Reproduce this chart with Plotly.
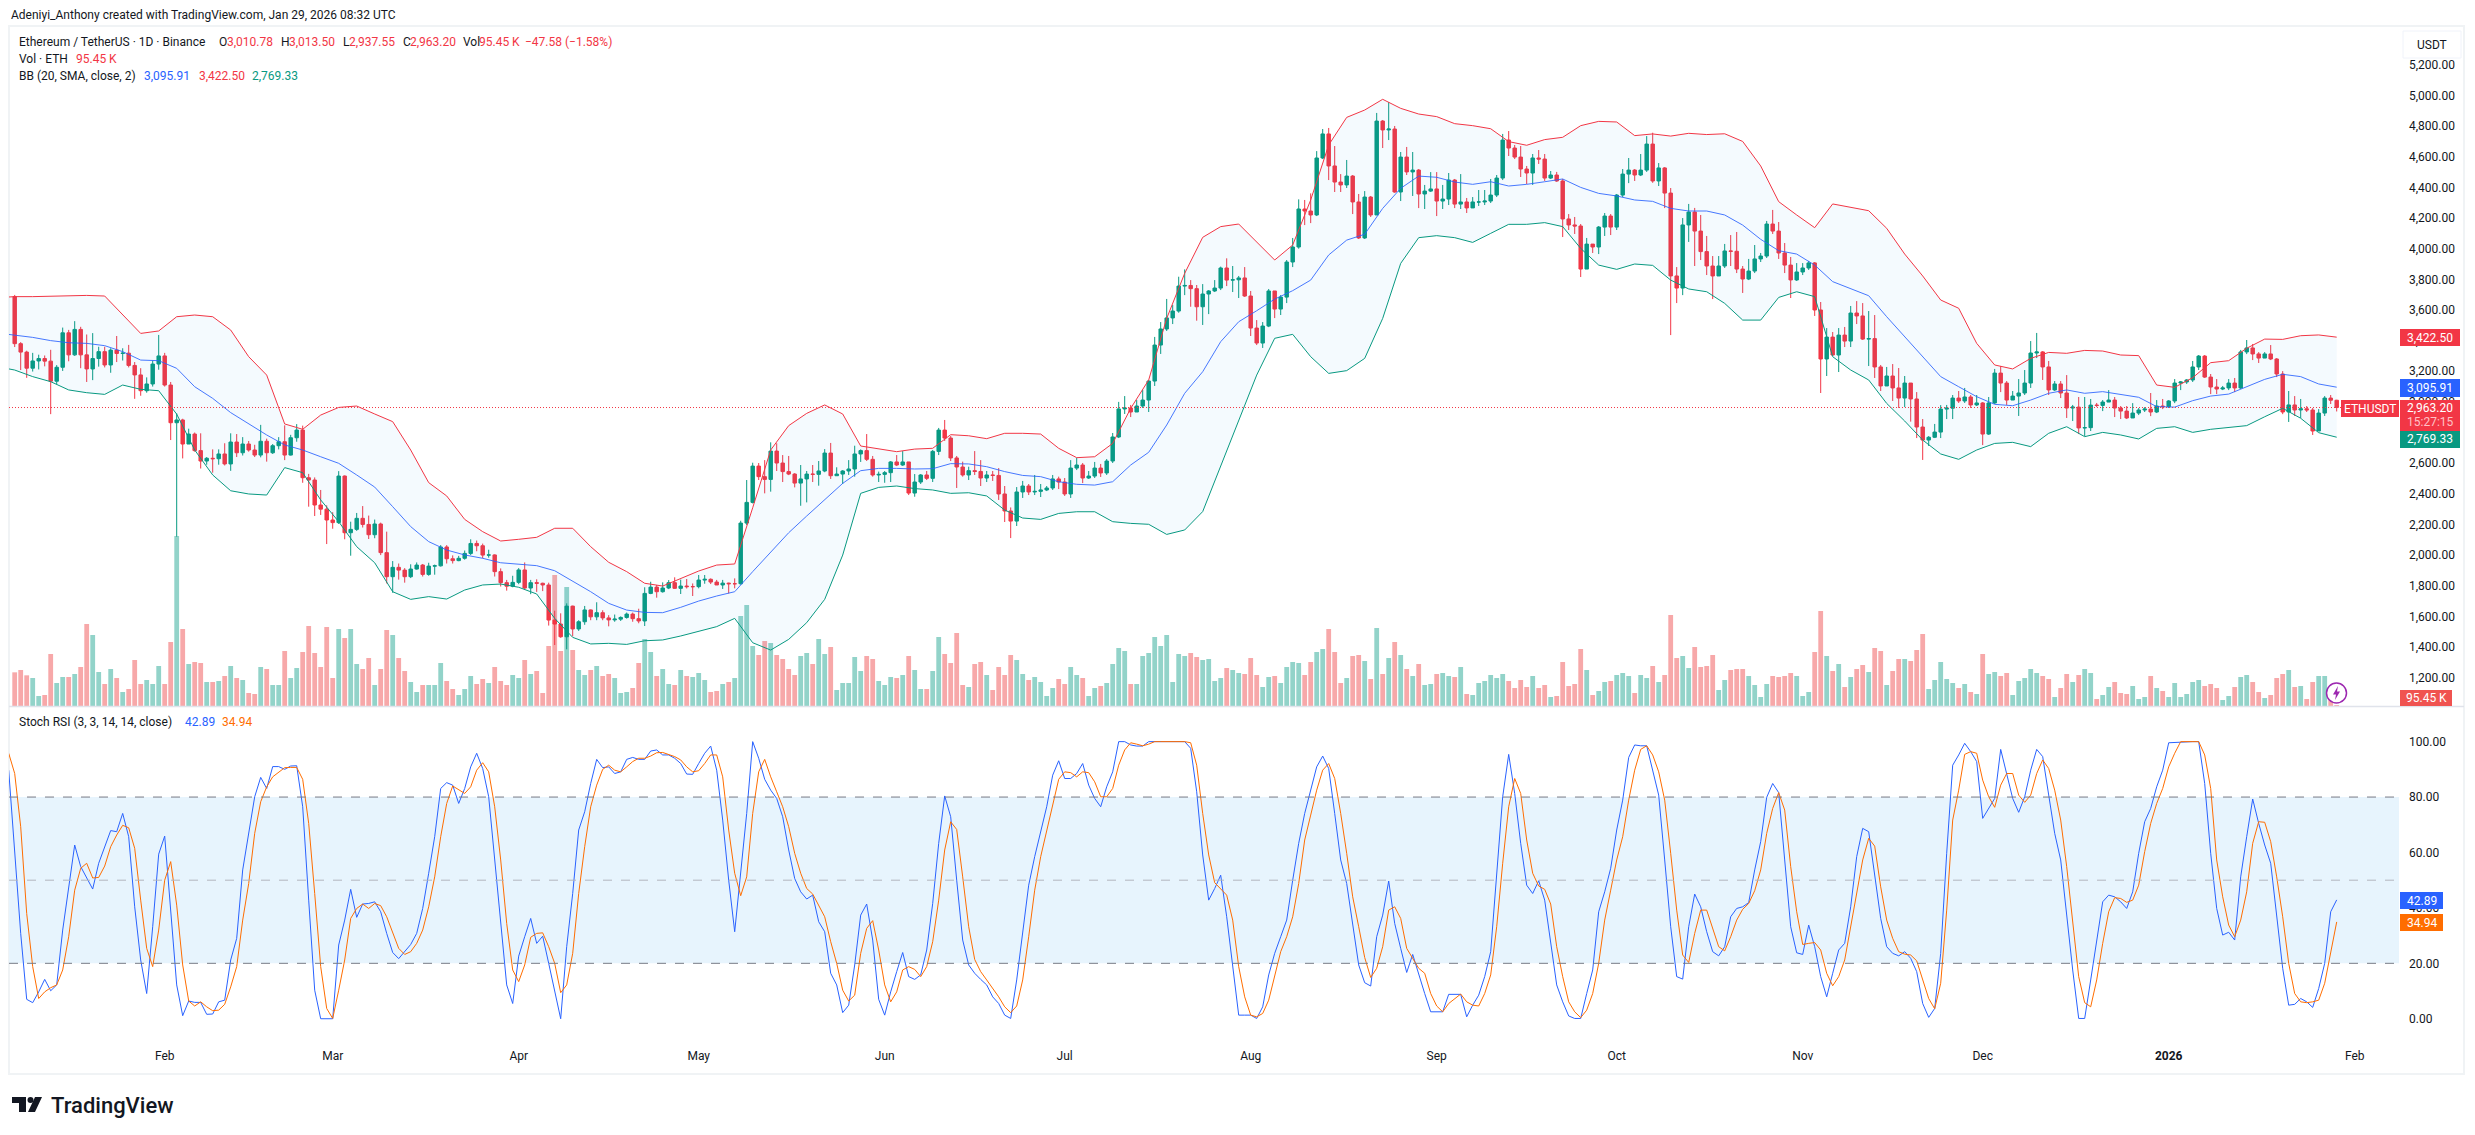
import pandas as pd
import plotly.graph_objects as go

WIDTH, HEIGHT = 2475, 1135

first_open = 3687

# Daily closes, one row per month from 7 Jan 2025 to 29 Jan 2026
close_prices = [
    3380,3325,3220,3267,3283,3266,3135,3226,3451,3307,3473,3307,3215,3283,3328,3241,3338,3316,3318,3238,3176,3073,3117,3247,3300,
    3110,2864,2882,2725,2790,2682,2614,2632,2629,2660,2595,2738,2668,2725,2686,2653,2743,2668,2714,2740,2653,2766,2816,2505,2490,2327,2300,2229,
    2212,2516,2146,2168,2240,2200,2133,2203,2016,1859,1920,1902,1859,1909,1935,1874,1928,1930,2053,1976,1964,1979,2011,2076,2061,2000,2001,1892,1820,1797,1822,
    1903,1785,1820,1816,1805,1576,1550,1467,1667,1518,1565,1642,1597,1624,1590,1577,1582,1593,1615,1585,1570,1750,1791,1761,1785,1820,1783,1798,1794,1794,
    1837,1842,1824,1805,1817,1813,1813,2209,2344,2581,2512,2494,2679,2601,2545,2529,2470,2497,2529,2527,2549,2666,2518,2529,2549,2562,2660,2682,2625,2523,2527,
    2538,2608,2588,2608,2405,2477,2523,2501,2677,2816,2764,2634,2575,2523,2551,2546,2503,2523,2520,2399,2288,2222,2412,2451,2412,2416,2425,2438,2497,2477,
    2399,2568,2588,2503,2516,2568,2536,2614,2771,2954,2960,2934,2973,3012,3136,3371,3476,3548,3593,3756,3760,3739,3621,3704,3724,3743,3874,3795,3797,3809,3691,
    3482,3384,3495,3724,3606,3684,3913,4011,4259,4246,4220,4592,4749,4540,4435,4416,4474,4305,4070,4337,4220,4833,4775,4781,4370,4598,4501,4513,4357,4376,4390,
    4311,4324,4448,4291,4305,4266,4305,4305,4311,4350,4461,4709,4657,4598,4520,4494,4592,4585,4461,4481,4442,4194,4155,4148,3867,4030,4011,4141,4213,4141,
    4350,4487,4513,4481,4513,4683,4442,4527,4363,3822,3743,4155,4239,4115,3981,3887,3822,3887,3985,3983,3867,3802,3854,3933,3952,4161,4115,3972,3893,3796,3848,
    3874,3907,3600,3280,3423,3306,3436,3397,3580,3561,3410,3413,3228,3104,3169,3091,3025,3123,3019,2836,2751,2769,2803,2953,2959,3025,3006,3032,2980,2993,
    2790,2993,3188,3123,3012,3038,3058,3123,3319,3326,3228,3078,3117,3058,2960,2966,2830,2832,2979,2977,2999,3012,2960,2940,2895,2927,2947,2953,2934,2973,2969,
    3006,3123,3130,3143,3228,3299,3162,3097,3084,3091,3123,3091,3326,3352,3313,3286,3313,3280,3182,2934,2980,2947,2955,2947,2810,2927,3025,3010.78,2963.20,
]
high_prices = [
    3698,3390,3334,3320,3308,3303,3340,3240,3485,3470,3527,3490,3440,3449,3360,3360,3350,3430,3350,3372,3260,3220,3160,3270,3437,
    3320,3130,2925,2890,2825,2800,2795,2640,2690,2690,2730,2795,2790,2770,2745,2720,2850,2760,2725,2770,2847,2785,2855,2845,2530,2507,2425,2325,
    2280,2548,2520,2218,2275,2320,2258,2232,2212,2153,1961,1945,1915,1940,1952,1942,1950,1938,2065,2065,1998,1995,2030,2103,2095,2075,2035,2005,1913,1838,1865,
    1915,1952,1838,1842,1820,1820,1637,1620,1685,1670,1575,1668,1645,1692,1640,1608,1612,1600,1625,1625,1650,1790,1826,1805,1822,1837,1855,1840,1844,1815,
    1870,1870,1848,1838,1838,1820,1848,2224,2490,2603,2601,2620,2736,2730,2653,2647,2535,2588,2549,2588,2614,2692,2732,2573,2555,2620,2714,2690,2790,2647,2545,
    2549,2614,2653,2679,2608,2529,2529,2549,2686,2830,2882,2777,2647,2610,2577,2679,2620,2549,2549,2568,2451,2311,2444,2484,2464,2523,2464,2451,2523,2512,
    2503,2620,2634,2601,2549,2608,2595,2627,2797,3000,3038,2980,3012,3078,3143,3424,3521,3672,3633,3817,3865,3795,3763,3769,3730,3795,3883,3937,3887,3822,3880,
    3724,3534,3521,3737,3724,3697,3926,4070,4322,4318,4361,4637,4781,4788,4670,4487,4579,4481,4357,4376,4344,4886,4840,4957,4801,4631,4664,4631,4520,4416,4500,
    4500,4416,4494,4455,4487,4331,4337,4383,4383,4455,4481,4749,4768,4677,4670,4540,4618,4644,4618,4507,4501,4455,4226,4207,4161,4070,4030,4148,4233,4226,
    4357,4520,4592,4520,4618,4735,4757,4559,4533,4396,3880,4200,4292,4266,4220,4083,3952,3952,4031,4089,4109,3887,3933,4024,3972,4181,4253,4174,4037,3946,3906,
    3906,3920,3913,3652,3482,3456,3482,3489,3626,3658,3645,3593,3567,3241,3228,3247,3221,3169,3123,3064,2888,2777,2856,2979,2980,3045,3071,3091,3045,3045,
    2999,3032,3215,3234,3136,3071,3149,3208,3397,3450,3332,3267,3136,3136,3175,2980,3032,3032,3019,2993,3012,3077,3032,2973,2973,2992,2960,2966,3058,3012,3019,
    3012,3149,3136,3149,3267,3306,3306,3182,3149,3104,3149,3156,3339,3404,3378,3325,3325,3371,3286,3201,3071,3038,3019,2973,2960,2953,3038,3045,3013.50,
]
low_prices = [
    3358,3208,3157,3198,3212,3232,2920,3115,3202,3265,3300,3220,3130,3142,3230,3225,3190,3260,3270,3225,3020,3040,3060,3100,3210,
    3100,2751,2120,2631,2730,2675,2565,2590,2538,2590,2585,2550,2640,2650,2675,2640,2638,2610,2660,2690,2620,2650,2740,2472,2316,2255,2262,2072,
    2172,2203,2103,1996,2158,2180,2105,2110,2000,1815,1754,1840,1820,1850,1905,1860,1865,1872,1925,1945,1945,1960,1970,2000,2025,1980,1983,1860,1795,1768,1790,
    1810,1772,1745,1760,1765,1540,1413,1460,1385,1470,1505,1545,1575,1575,1575,1535,1565,1570,1585,1565,1555,1537,1745,1722,1755,1778,1780,1746,1782,1733,
    1783,1813,1811,1805,1779,1750,1783,1807,2196,2337,2490,2403,2414,2549,2477,2522,2442,2322,2344,2477,2453,2541,2497,2518,2464,2523,2512,2608,2614,2512,2477,
    2472,2477,2581,2582,2392,2381,2464,2490,2477,2653,2745,2614,2438,2512,2490,2523,2451,2477,2484,2360,2216,2111,2190,2373,2392,2392,2379,2418,2425,2431,
    2386,2373,2555,2470,2497,2503,2510,2523,2601,2764,2921,2901,2934,2960,2934,3104,3313,3463,3508,3582,3697,3621,3530,3502,3573,3717,3730,3756,3717,3678,3685,
    3430,3371,3352,3488,3547,3567,3645,3880,4000,4154,4167,4213,4585,4448,4370,4370,4396,4226,4063,4063,4207,4220,4657,4709,4365,4311,4481,4344,4265,4259,4370,
    4213,4259,4285,4265,4259,4233,4266,4279,4285,4298,4337,4448,4605,4585,4468,4422,4416,4553,4442,4455,4436,4076,4122,4096,3815,3867,3972,3965,4083,4089,
    4122,4337,4428,4442,4474,4501,4430,4409,4265,3436,3645,3697,4044,3887,3926,3828,3671,3822,3874,3887,3841,3711,3795,3841,3913,3939,4096,3933,3841,3678,3789,
    3828,3861,3561,3058,3169,3300,3195,3358,3358,3508,3404,3234,3156,3071,3104,3006,2960,2966,2871,2764,2621,2712,2764,2764,2888,2888,2993,2993,2960,2973,
    2718,2784,2986,3064,2980,3012,2908,3045,3091,3286,3143,3045,3071,3025,2895,2875,2790,2777,2810,2966,2940,3006,2901,2888,2888,2895,2914,2934,2907,2927,2953,
    2960,2992,3077,3117,3130,3208,3156,3051,3051,3077,3077,3064,3084,3312,3273,3254,3286,3273,3162,2920,2869,2908,2895,2934,2784,2810,2908,2986,2937.55,
]
# Daily traded volume in thousands of ETH
volumes_k = [
    585,620,540,500,230,245,860,425,515,515,560,665,1310,1145,590,410,635,500,290,335,770,410,470,410,680,
    410,1040,2630,1235,710,740,725,440,440,455,530,680,500,470,275,260,665,635,395,395,905,500,650,890,1280,875,665,1265,
    500,1235,1100,1235,710,635,800,395,635,1220,1145,800,605,440,290,395,395,395,725,455,335,245,335,530,410,485,425,665,455,395,545,
    500,770,560,605,275,980,2045,905,1865,920,620,545,620,680,530,560,500,275,290,350,725,1085,890,530,635,410,395,620,530,515,
    575,470,290,305,410,440,500,1430,1595,980,845,1055,1025,845,785,635,545,830,875,710,1085,860,965,320,425,425,815,605,830,785,455,
    395,515,500,545,830,620,335,335,605,1115,860,725,1175,395,365,710,740,545,320,665,545,845,770,560,470,515,440,230,350,485,
    410,665,545,500,230,350,380,425,710,950,905,410,410,830,875,1115,980,1145,440,860,830,875,815,770,785,455,500,650,620,575,560,
    800,545,365,515,530,425,665,740,725,545,740,890,935,1235,890,425,500,830,845,755,485,1250,560,800,1040,845,635,530,710,395,410,
    560,575,530,515,665,260,245,425,455,545,500,560,455,350,470,365,530,350,395,215,230,740,380,410,935,620,245,305,440,455,
    545,575,530,275,545,500,680,440,545,1445,800,830,650,965,665,680,845,320,470,620,635,635,530,395,215,410,530,515,530,575,530,
    230,290,890,1505,830,605,710,365,515,635,695,590,950,905,395,605,785,785,755,920,1160,335,470,740,485,425,350,410,290,260,
    860,560,590,530,575,245,455,500,635,575,530,485,215,350,560,440,545,635,575,185,245,365,440,275,260,380,185,215,530,350,305,
    215,425,215,260,440,470,380,410,350,170,230,365,515,545,440,290,200,245,500,560,620,365,380,185,440,530,530,250,95.45,
]
# Bollinger Bands sampled every third session, starting 4 Jan 2025
bb_upper = [
    3680,3687,3687,3691,3693,3695,3691,3567,3447,3463,3556,3567,3556,3469,3295,3175,2856,2821,2914,2964,2973,2921,2871,2686,2473,2386,
    2233,2153,2092,2103,2116,2175,2175,2055,1953,1892,1816,1798,1848,1896,1935,1942,2309,2686,2845,2925,2980,2921,2712,2692,2675,2692,
    2697,2786,2779,2760,2795,2795,2790,2697,2636,2642,2729,2958,3143,3545,3839,4074,4144,4161,4046,3926,4024,4318,4677,4857,4905,4975,
    4916,4879,4862,4816,4803,4783,4699,4675,4712,4727,4803,4831,4827,4738,4749,4735,4753,4745,4750,4700,4540,4307,4220,4137,4292,4270,
    4248,4133,3965,3822,3665,3611,3382,3241,3215,3284,3323,3317,3336,3332,3306,3302,3110,3095,3158,3256,3269,3350,3410,3408,3432,3437,3422.50,
]
bb_basis = [
    3450,3437,3421,3400,3386,3382,3367,3328,3273,3269,3219,3099,3023,2930,2856,2784,2719,2686,2642,2599,2523,2444,2316,2186,2088,2033,
    2001,1979,1950,1942,1931,1898,1831,1761,1685,1641,1626,1624,1659,1700,1733,1761,1892,2022,2146,2255,2364,2468,2551,2566,2566,2562,
    2564,2597,2595,2577,2545,2520,2512,2479,2462,2457,2479,2588,2671,2849,3056,3197,3393,3523,3595,3671,3726,3795,3959,4056,4094,4263,
    4394,4474,4466,4435,4420,4437,4409,4420,4437,4455,4400,4361,4344,4318,4309,4263,4246,4246,4220,4154,4061,3987,3965,3893,3785,3741,
    3693,3556,3426,3295,3165,3099,3034,2984,2975,3012,3056,3078,3056,3067,3049,3030,2969,2966,3008,3038,3051,3099,3147,3180,3165,3117,3095.91,
]
bb_lower = [
    3230,3208,3165,3132,3078,3060,3049,3110,3082,3073,2920,2686,2523,2420,2399,2392,2571,2538,2360,2218,2055,1950,1761,1711,1729,1713,
    1772,1805,1811,1790,1746,1587,1463,1420,1424,1417,1441,1446,1472,1504,1533,1587,1428,1380,1450,1559,1711,2000,2403,2442,2451,2434,
    2425,2403,2407,2386,2294,2242,2233,2272,2283,2283,2218,2207,2201,2135,2164,2284,2580,2882,3175,3415,3441,3295,3186,3204,3284,3545,
    3904,4072,4085,4072,4041,4100,4159,4159,4170,4144,4002,3893,3865,3900,3891,3795,3737,3719,3643,3534,3534,3682,3719,3687,3295,3208,
    3143,2990,2875,2751,2660,2625,2686,2729,2736,2708,2795,2838,2773,2801,2784,2758,2827,2838,2801,2821,2834,2845,2903,2958,2893,2799,2769.33,
]
# Stochastic RSI from 6 Jan 2025
stoch_k = [
    89.7,59.7,30.8,7.0,5.8,9.7,14.2,10.1,12.2,32.0,47.6,62.7,54.9,50.6,46.8,56.1,62.3,67.9,67.5,74.1,65.7,40.4,21.2,9.1,33.2,59.4,65.9,38.0,12.2,1.1,
    6.4,5.9,5.9,1.6,1.7,6.1,6.7,21.2,29.0,53.7,66.9,80.1,87.1,83.1,91.0,91.0,90.0,91.2,91.3,76.5,42.8,10.3,0,0,0,26.6,35.6,46.7,36.6,41.4,
    41.6,42.2,38.6,30.8,23.9,21.7,24.2,26.8,30.8,39.8,52.5,65.7,83.1,85.2,84.3,77.7,83.1,90.9,95.8,90.3,80.1,57.3,34.4,12.2,5.5,22.6,29.6,36.2,27.2,29.8,
    20.0,10.3,0,26.0,45.2,68.1,74.7,84.9,93.6,90.6,90.9,88.5,89.1,93.6,94.3,93.6,93.6,96.6,97.0,95.2,95.2,94.0,92.1,88.3,88.2,92.1,95.8,98.4,89.7,71.7,
    50.0,31.4,53.7,74.1,100,94.0,86.4,82.5,79.5,72.9,60.9,50.6,45.8,43.2,44.6,35.0,31.4,16.4,12.2,2.2,4.9,19.4,37.4,41.4,28.4,7.0,1.3,9.7,17.0,23.9,
    15.2,14.2,15.8,24.8,41.6,63.3,80.4,72.9,50.0,28.4,19.4,16.4,14.2,12.2,7.9,5.5,1.3,0.1,14.0,30.8,48.2,58.5,68.1,76.5,87.9,93.1,86.7,86.7,88.5,92.1,
    84.3,79.5,76.5,83.7,89.1,100,100,98.8,98.4,98.4,100,100,100,100,100,100,100,97.6,81.9,59.1,42.8,47.0,51.8,36.8,19.4,1.3,1.3,1.3,0.1,4.3,
    15.8,23.6,29.6,35.6,50.0,63.3,74.1,82.5,90.9,94.8,90.3,74.1,57.3,48.8,34.4,19.4,13.0,11.8,29.6,37.4,49.7,34.4,25.4,16.7,23.2,15.8,9.1,2.5,2.4,2.5,
    8.8,8.8,8.8,0.7,4.9,8.5,15.2,24.2,53.7,80.1,95.4,81.3,63.3,48.2,45.2,49.8,42.8,28.4,12.2,6.1,1.0,0.1,0.1,9.1,17.6,38.6,45.8,54.3,68.1,78.9,
    94.3,98.8,98.5,98.5,89.7,80.7,57.3,33.2,15.2,14.3,33.2,45.0,40.4,31.4,24.2,22.7,26.0,36.8,39.8,40.4,41.9,53.7,63.9,79.9,84.9,81.6,57.3,33.2,23.8,23.2,
    33.8,26.0,15.2,7.9,16.4,24.8,27.2,40.4,58.5,68.7,67.5,51.2,36.2,26.0,23.6,22.7,24.2,21.8,17.0,5.5,0.5,3.7,23.6,59.7,91.5,95.2,99.4,96.4,92.8,72.3,
    75.9,79.5,97.2,87.9,79.5,74.5,80.1,89.7,97.2,94.6,81.3,66.9,57.3,36.8,17.6,0.1,0.1,14.0,28.4,42.2,44.6,44.0,42.2,39.8,45.8,59.7,71.1,75.9,83.7,89.7,
    99.6,99.7,100,100,100,100,84.9,59.7,39.8,30.2,31.2,28.4,51.2,65.7,79.3,70.5,62.7,56.1,36.8,18.2,4.9,5.2,7.3,6.1,4.1,10.9,20.0,38.6,42.89,
]
stoch_d = [
    95.8,88.5,69.3,38.0,18.8,7.3,9.7,11.2,12.2,17.6,29.6,46.4,54.3,56.1,50.8,51.0,55.1,62.1,66.3,69.8,68.9,61.5,42.8,25.4,18.8,32.0,50.0,56.7,41.0,19.4,
    6.4,4.6,6.1,4.3,2.9,3.1,5.2,11.5,18.8,35.6,48.8,66.9,78.3,83.7,87.3,88.8,90.6,90.7,90.7,86.4,70.5,45.2,18.8,3.7,0.1,10.3,21.2,36.2,39.8,41.4,
    39.8,41.6,40.8,36.8,30.8,25.4,23.2,24.2,27.2,32.0,40.4,51.2,65.7,77.7,84.0,82.5,81.3,83.7,89.7,92.4,89.1,76.5,57.3,34.4,17.6,13.4,19.4,29.4,30.8,31.0,
    26.0,20.0,9.4,12.2,23.6,45.2,62.1,76.5,84.3,90.0,91.5,89.7,89.1,90.9,92.8,94.0,94.0,94.8,96.0,96.1,95.4,94.6,93.4,90.9,89.1,89.5,92.1,95.2,95.2,87.3,
    68.1,52.5,44.4,51.2,74.1,89.1,93.6,87.3,81.9,76.5,69.3,59.7,52.5,47.0,45.0,41.0,36.8,27.8,20.0,10.3,6.4,8.5,23.6,32.6,35.4,24.8,12.2,6.1,9.7,17.6,
    18.8,17.8,15.2,18.8,27.8,42.8,60.9,71.1,68.3,51.2,33.2,21.4,17.0,14.0,10.9,7.9,4.3,2.2,4.6,14.0,29.6,46.4,58.5,68.1,77.7,86.4,89.1,88.8,87.3,89.1,
    88.8,85.5,80.1,80.1,83.1,91.5,97.0,99.6,99.1,98.5,99.1,100,100,100,100,100,100,99.6,91.5,74.1,59.1,49.1,47.0,44.6,35.6,18.8,7.9,1.3,0.7,1.9,
    6.7,15.2,24.2,29.6,36.8,48.8,64.5,73.5,82.5,89.7,92.1,86.7,74.1,59.7,44.0,33.2,22.1,14.9,18.2,26.0,39.2,40.4,36.2,25.4,21.8,18.2,16.4,9.1,4.6,2.5,
    5.5,7.3,8.9,6.1,4.9,4.6,9.1,15.8,33.2,56.1,76.5,86.7,81.3,64.5,52.5,47.9,46.7,41.4,26.0,15.2,6.1,2.5,0.4,3.1,9.1,20.0,35.6,46.4,57.3,65.7,
    78.9,89.7,97.2,98.5,95.2,89.1,78.9,59.7,39.2,23.0,20.3,30.8,39.2,39.2,32.6,26.0,24.5,29.6,35.6,39.5,41.6,46.2,53.7,66.9,75.9,81.6,75.3,54.9,38.6,26.8,
    27.2,27.5,24.8,16.4,11.9,15.2,21.2,33.2,44.0,57.3,65.1,62.3,47.6,35.6,29.0,24.2,23.3,23.0,20.9,14.0,7.3,3.6,12.8,39.2,71.7,82.5,95.4,96.4,95.8,86.1,
    80.1,76.3,84.3,88.5,88.5,80.7,78.1,80.7,88.5,93.4,90.3,82.5,71.7,54.9,35.6,15.2,5.8,4.3,14.0,27.2,38.6,43.7,43.4,42.0,42.8,48.2,60.3,70.5,77.7,83.1,
    90.9,95.8,100,100,100,100,95.2,83.1,57.3,44.0,33.8,29.6,35.6,45.8,63.3,71.1,70.9,63.9,51.2,36.8,20.0,9.1,6.1,5.8,6.1,6.7,12.8,23.6,34.94,
]

price_ticks = list(range(1200, 5400, 200))
stoch_ticks = [0, 20, 40, 60, 80, 100]
month_ticks = ["2025-02-01", "2025-03-01", "2025-04-01", "2025-05-01", "2025-06-01", "2025-07-01", "2025-08-01",
               "2025-09-01", "2025-10-01", "2025-11-01", "2025-12-01", "2026-01-01", "2026-02-01"]
month_labels = ["Feb", "Mar", "Apr", "May", "Jun", "Jul", "Aug", "Sep", "Oct", "Nov", "Dec", "<b>2026</b>", "Feb"]

RED, GREEN, BLUE, ORANGE = "#f23645", "#089981", "#2962ff", "#ff6d00"
FONT = "Roboto, Lato, sans-serif"
TEXT = "#131722"

dates = pd.date_range("2025-01-07", periods=len(close_prices), freq="D")
stoch_dates = pd.date_range("2025-01-06", periods=len(stoch_k), freq="D")
bb_dates = pd.date_range("2025-01-04", periods=len(bb_upper), freq="3D")
open_prices = [first_open] + close_prices[:-1]
volume_colors = ["#92d3c9" if c >= o else "#f7a8a9" for o, c in zip(open_prices, close_prices)]


def fx(px):
    return px / WIDTH


def fy(py):
    return 1 - py / HEIGHT


PANE_L, PANE_R = 9, 2399
PRICE_T, PRICE_B = 27, 706
STOCH_T, STOCH_B = 707, 1047


def px_to_date(px):
    return pd.Timestamp("2025-01-07") + pd.to_timedelta((px - 14.7) / 6, unit="D")


fig = go.Figure()
fig.add_trace(go.Bar(x=dates, y=volumes_k, marker=dict(color=volume_colors, line_width=0), yaxis="y", xaxis="x",
                     hoverinfo="skip"))
fig.add_trace(go.Scatter(x=bb_dates, y=bb_lower, mode="lines", line=dict(color=GREEN, width=1), opacity=0.8, yaxis="y2", xaxis="x"))
fig.add_trace(go.Scatter(x=bb_dates, y=bb_upper, mode="lines", line=dict(color=RED, width=1), opacity=0.8, fill="tonexty",
                         fillcolor="rgba(33,150,243,0.05)", yaxis="y2", xaxis="x"))
fig.add_trace(go.Scatter(x=bb_dates, y=bb_basis, mode="lines", line=dict(color=BLUE, width=1), opacity=0.85, yaxis="y2", xaxis="x"))
fig.add_trace(go.Candlestick(x=dates, open=open_prices, high=high_prices, low=low_prices, close=close_prices,
                             increasing=dict(line=dict(color=GREEN, width=1), fillcolor=GREEN),
                             decreasing=dict(line=dict(color=RED, width=1), fillcolor=RED),
                             yaxis="y2", xaxis="x"))
fig.add_trace(go.Scatter(x=stoch_dates, y=stoch_k, mode="lines", line=dict(color=BLUE, width=1), yaxis="y3", xaxis="x"))
fig.add_trace(go.Scatter(x=stoch_dates, y=stoch_d, mode="lines", line=dict(color=ORANGE, width=1), yaxis="y3", xaxis="x"))

shapes = [
    # outer frame and pane divider
    dict(type="rect", xref="paper", yref="paper", x0=fx(9), x1=fx(2464), y0=fy(26), y1=fy(1074),
         line=dict(color="#f0f3f5", width=2), layer="below"),
    dict(type="line", xref="paper", yref="paper", x0=fx(9), x1=fx(2464), y0=fy(706.5), y1=fy(706.5),
         line=dict(color="#e0e3eb", width=1.5)),
    # Stoch RSI channel
    dict(type="rect", xref="paper", yref="y3", x0=fx(PANE_L), x1=fx(PANE_R), y0=20, y1=80,
         fillcolor="#e7f4fd", line_width=0, layer="below"),
    dict(type="line", xref="paper", yref="y3", x0=fx(PANE_L), x1=fx(PANE_R), y0=80, y1=80,
         line=dict(color="#787b86", width=1, dash="dash")),
    dict(type="line", xref="paper", yref="y3", x0=fx(PANE_L), x1=fx(PANE_R), y0=20, y1=20,
         line=dict(color="#787b86", width=1, dash="dash")),
    dict(type="line", xref="paper", yref="y3", x0=fx(PANE_L), x1=fx(PANE_R), y0=50, y1=50,
         line=dict(color="#b2b5be", width=1, dash="dash")),
    # last price line
    dict(type="line", xref="paper", yref="y2", x0=fx(PANE_L), x1=fx(2341), y0=close_prices[-1], y1=close_prices[-1],
         line=dict(color=RED, width=1, dash="1px,2px")),
    # symbol-scale button
    dict(type="rect", xref="paper", yref="paper", x0=fx(2403), x1=fx(2461), y0=fy(31), y1=fy(58),
         fillcolor="white", line=dict(color="#f0f3fa", width=1)),
    # badge on the latest volume bar
    dict(type="circle", xref="paper", yref="paper", x0=fx(2326.5), x1=fx(2346.5), y0=fy(683), y1=fy(703),
         fillcolor="white", line=dict(color="#9c27b0", width=1.5)),
    dict(type="path", xref="paper", yref="paper", line_width=0, fillcolor="#9c27b0",
         path=f"M {fx(2338)} {fy(686)} L {fx(2333)} {fy(694.5)} L {fx(2336)} {fy(694.5)} L {fx(2335)} {fy(700)} "
              f"L {fx(2340)} {fy(691.5)} L {fx(2337)} {fy(691.5)} Z"),
]


def box(x0, x1, y0, y1, color):
    shapes.append(dict(type="rect", xref="paper", yref="paper", x0=fx(x0), x1=fx(x1), y0=fy(y0), y1=fy(y1),
                       fillcolor=color, line_width=0))


box(2400, 2460, 329, 346, RED)
box(2400, 2460, 379, 397, BLUE)
box(2341, 2399, 400, 417, RED)
box(2400, 2460, 400, 431, RED)
box(2400, 2460, 431, 448, GREEN)
box(2400, 2452, 690, 706, "#f05350")
box(2400, 2443, 892, 909, BLUE)
box(2400, 2443, 914, 931, ORANGE)

# TradingView mark
black = "#131722"
box(12, 26, 1097, 1103, black)
box(19, 26, 1097, 1112, black)
shapes.append(dict(type="circle", xref="paper", yref="paper", x0=fx(27.5), x1=fx(33.5), y0=fy(1097), y1=fy(1103),
                   fillcolor=black, line_width=0))
shapes.append(dict(type="path", xref="paper", yref="paper", line_width=0, fillcolor=black,
                   path=f"M {fx(35)} {fy(1097)} L {fx(42)} {fy(1097)} L {fx(35)} {fy(1112)} L {fx(28)} {fy(1112)} Z"))

annotations = []


def label(px, py, s, color=TEXT, size=12, anchor="left", weight=None):
    font = dict(family=FONT, size=size, color=color)
    if weight:
        font["weight"] = weight
    annotations.append(dict(xref="paper", yref="paper", x=fx(px), y=fy(py), text=s, showarrow=False, xanchor=anchor,
                            yanchor="middle", font=font, borderpad=0))


label(10, 15, "Adeniyi_Anthony created with TradingView.com, Jan 29, 2026 08:32 UTC")
label(18, 42, "Ethereum / TetherUS · 1D · Binance")
label(218, 42, "O")
label(226, 42, "3,010.78", RED)
label(280, 42, "H")
label(288, 42, "3,013.50", RED)
label(342, 42, "L")
label(348, 42, "2,937.55", RED)
label(402, 42, "C")
label(409, 42, "2,963.20", RED)
label(462, 42, "Vol")
label(478, 42, "95.45 K", RED)
label(524, 42, "−47.58 (−1.58%)", RED)
label(18, 59, "Vol · ETH")
label(75, 59, "95.45 K", RED)
label(18, 76, "BB (20, SMA, close, 2)")
label(143, 76, "3,095.91", BLUE)
label(197.5, 76, "3,422.50", RED)
label(250.6, 76, "2,769.33", GREEN)
label(18, 722, "Stoch RSI (3, 3, 14, 14, close)")
label(184, 722, "42.89", BLUE)
label(221, 722, "34.94", ORANGE)
label(2432, 44.5, "USDT", anchor="center")
label(2430, 337.5, "3,422.50", "white", anchor="center")
label(2430, 388, "3,095.91", "white", anchor="center")
label(2370, 408.5, "ETHUSDT", "white", anchor="center")
label(2430, 408, "2,963.20", "white", anchor="center")
label(2430, 422, "15:27:15", "#ffc1c6", anchor="center")
label(2430, 439.5, "2,769.33", "white", anchor="center")
label(2426, 698, "95.45 K", "white", anchor="center")
label(2421.5, 900.5, "42.89", "white", anchor="center")
label(2421.5, 922.5, "34.94", "white", anchor="center")
label(49.5, 1105, "TradingView", black, size=22, weight=500)

fig.update_layout(
    width=WIDTH, height=HEIGHT, margin=dict(l=0, r=0, t=0, b=0), autosize=False,
    paper_bgcolor="white", plot_bgcolor="white", showlegend=False,
    font=dict(family=FONT, size=12, color=TEXT),
    bargap=0.2, boxgap=0.18, shapes=shapes, annotations=annotations,
    xaxis=dict(domain=[fx(PANE_L), fx(PANE_R)], range=[px_to_date(PANE_L), px_to_date(PANE_R)], type="date",
               anchor="y3", showgrid=False, zeroline=False, showline=False, ticks="", tickvals=month_ticks,
               ticktext=month_labels, tickfont=dict(size=12, color=TEXT), rangeslider=dict(visible=False)),
    yaxis=dict(domain=[fy(PRICE_B), fy(PRICE_T)], range=[80, 10265], visible=False, fixedrange=True),
    yaxis2=dict(domain=[fy(PRICE_B), fy(PRICE_T)], overlaying="y", side="right", range=[1015, 5447], anchor="x",
                tickvals=price_ticks, tickformat=",.2f", showgrid=False, zeroline=False, showline=False, ticks="",
                ticklabelstandoff=9, tickfont=dict(size=12, color=TEXT), fixedrange=True),
    yaxis3=dict(domain=[fy(STOCH_B), fy(STOCH_T)], side="right", range=[-10.2, 112.5], anchor="x",
                tickvals=stoch_ticks, tickformat=".2f", showgrid=False, zeroline=False, showline=False, ticks="",
                ticklabelstandoff=9, tickfont=dict(size=12, color=TEXT), fixedrange=True),
)

fig.write_html("out.html")
